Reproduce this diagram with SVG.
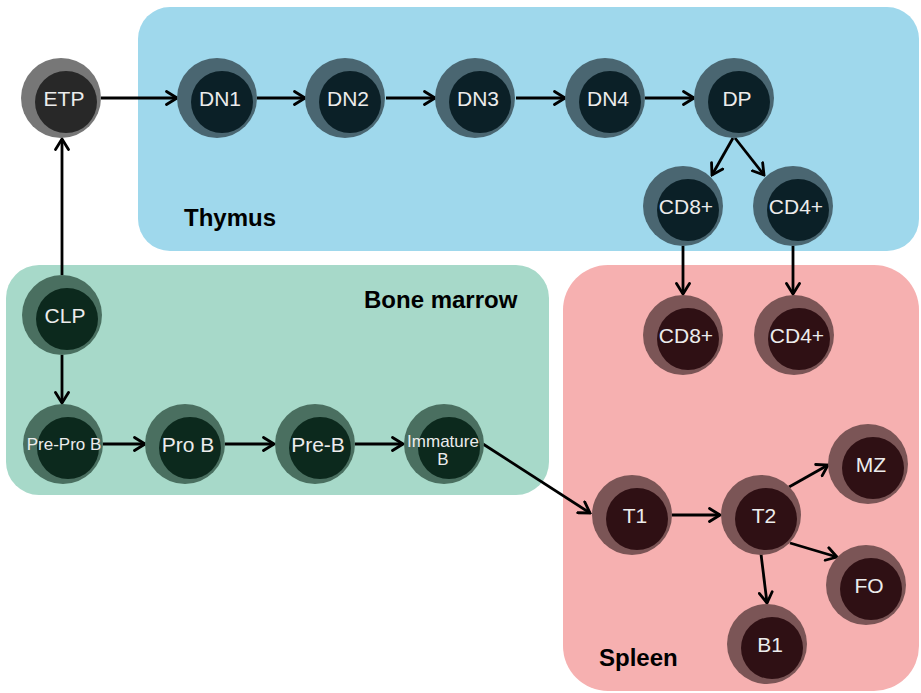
<svg xmlns="http://www.w3.org/2000/svg" width="921" height="693" viewBox="0 0 921 693">
<defs>
<style>
.region{stroke:none}
.rt{font-family:"Liberation Sans",Arial,sans-serif;font-weight:bold;font-size:24px;fill:#000}
.lbl{font-family:"Liberation Sans",Arial,sans-serif;font-size:21px;fill:#ececec;text-anchor:middle}
.sm{font-size:17px}
.edge{stroke:#000;stroke-width:2.8;fill:none;marker-end:url(#ah)}
.g .o{fill:#777777}.g .i{fill:#282828}
.t .o{fill:#4a6671}.t .i{fill:#0b2027}
.b .o{fill:#4a6f60}.b .i{fill:#0c291d}
.s .o{fill:#7b5556}.s .i{fill:#2f1014}
</style>
<marker id="ah" viewBox="0 0 14 16" refX="12" refY="8" markerWidth="14" markerHeight="16" markerUnits="userSpaceOnUse" orient="auto">
<path d="M1.5,1.5 L12,8 L1.5,14.5" fill="none" stroke="#000" stroke-width="2.8" stroke-linecap="round" stroke-linejoin="miter"/>
</marker>
</defs>
<rect width="921" height="693" fill="#ffffff"/>
<g id="regions">
<rect class="region" x="138" y="7" width="781" height="244" rx="32" fill="#9fd8ec"/>
<rect class="region" x="6" y="265" width="543" height="230" rx="33" fill="#a7d9c9"/>
<rect class="region" x="563" y="265" width="356" height="426" rx="45" fill="#f6b0b0"/>
<text class="rt" x="184" y="226">Thymus</text>
<text class="rt" x="364" y="308">Bone marrow</text>
<text class="rt" x="599" y="666">Spleen</text>
</g>
<g id="connectors">
<line class="edge" x1="101" y1="98" x2="177" y2="98"/>
<line class="edge" x1="257" y1="98" x2="305" y2="98"/>
<line class="edge" x1="386" y1="98" x2="435" y2="98"/>
<line class="edge" x1="516" y1="98" x2="565" y2="98"/>
<line class="edge" x1="645" y1="98" x2="694" y2="98"/>
<line class="edge" x1="733" y1="138" x2="712" y2="175"/>
<line class="edge" x1="735" y1="138" x2="764" y2="175"/>
<line class="edge" x1="683" y1="246" x2="683" y2="294"/>
<line class="edge" x1="793" y1="246" x2="793" y2="294"/>
<line class="edge" x1="62" y1="275" x2="62" y2="139"/>
<line class="edge" x1="62" y1="355" x2="62" y2="403"/>
<line class="edge" x1="103" y1="444" x2="145" y2="444"/>
<line class="edge" x1="225" y1="444" x2="274" y2="444"/>
<line class="edge" x1="355" y1="444" x2="403" y2="444"/>
<line class="edge" x1="483" y1="444" x2="590" y2="513"/>
<line class="edge" x1="672" y1="515" x2="720" y2="515"/>
<line class="edge" x1="789" y1="487" x2="828" y2="465"/>
<line class="edge" x1="790" y1="543" x2="837" y2="557"/>
<line class="edge" x1="761" y1="554" x2="767" y2="603"/>
</g>
<g id="ETP" class="g"><circle class="o" cx="61" cy="98" r="40"/><circle class="i" cx="66" cy="102" r="31"/><text class="lbl" x="64" y="106">ETP</text></g>
<g id="DN1" class="t"><circle class="o" cx="217" cy="98" r="40"/><circle class="i" cx="222" cy="102" r="31"/><text class="lbl" x="220" y="106">DN1</text></g>
<g id="DN2" class="t"><circle class="o" cx="345" cy="98" r="40"/><circle class="i" cx="350" cy="102" r="31"/><text class="lbl" x="348" y="106">DN2</text></g>
<g id="DN3" class="t"><circle class="o" cx="475" cy="98" r="40"/><circle class="i" cx="480" cy="102" r="31"/><text class="lbl" x="478" y="106">DN3</text></g>
<g id="DN4" class="t"><circle class="o" cx="605" cy="98" r="40"/><circle class="i" cx="610" cy="102" r="31"/><text class="lbl" x="608" y="106">DN4</text></g>
<g id="DP" class="t"><circle class="o" cx="734" cy="98" r="40"/><circle class="i" cx="739" cy="102" r="31"/><text class="lbl" x="737" y="106">DP</text></g>
<g id="CD8T" class="t"><circle class="o" cx="683" cy="206" r="40"/><circle class="i" cx="688" cy="210" r="31"/><text class="lbl" x="686" y="214">CD8+</text></g>
<g id="CD4T" class="t"><circle class="o" cx="793" cy="206" r="40"/><circle class="i" cx="798" cy="210" r="31"/><text class="lbl" x="796" y="214">CD4+</text></g>
<g id="CD8S" class="s"><circle class="o" cx="683" cy="335" r="40"/><circle class="i" cx="688" cy="339" r="31"/><text class="lbl" x="686" y="343">CD8+</text></g>
<g id="CD4S" class="s"><circle class="o" cx="794" cy="335" r="40"/><circle class="i" cx="799" cy="339" r="31"/><text class="lbl" x="797" y="343">CD4+</text></g>
<g id="CLP" class="b"><circle class="o" cx="62" cy="315" r="40"/><circle class="i" cx="67" cy="319" r="31"/><text class="lbl" x="65" y="323">CLP</text></g>
<g id="PreProB" class="b"><circle class="o" cx="63" cy="444" r="40"/><circle class="i" cx="68" cy="448" r="31"/><text class="lbl sm" x="64" y="450">Pre-Pro B</text></g>
<g id="ProB" class="b"><circle class="o" cx="185" cy="444" r="40"/><circle class="i" cx="190" cy="448" r="31"/><text class="lbl" x="188" y="452">Pro B</text></g>
<g id="PreB" class="b"><circle class="o" cx="315" cy="444" r="40"/><circle class="i" cx="320" cy="448" r="31"/><text class="lbl" x="318" y="452">Pre-B</text></g>
<g id="ImmatureB" class="b"><circle class="o" cx="444" cy="444" r="40"/><circle class="i" cx="449" cy="448" r="31"/><text class="lbl sm" x="443" y="447">Immature</text><text class="lbl sm" x="443" y="465">B</text></g>
<g id="T1" class="s"><circle class="o" cx="632" cy="515" r="40"/><circle class="i" cx="637" cy="519" r="31"/><text class="lbl" x="635" y="523">T1</text></g>
<g id="T2" class="s"><circle class="o" cx="761" cy="515" r="40"/><circle class="i" cx="766" cy="519" r="31"/><text class="lbl" x="764" y="523">T2</text></g>
<g id="MZ" class="s"><circle class="o" cx="868" cy="464" r="40"/><circle class="i" cx="873" cy="468" r="31"/><text class="lbl" x="871" y="472">MZ</text></g>
<g id="FO" class="s"><circle class="o" cx="866" cy="585" r="40"/><circle class="i" cx="871" cy="589" r="31"/><text class="lbl" x="869" y="593">FO</text></g>
<g id="B1" class="s"><circle class="o" cx="767" cy="644" r="40"/><circle class="i" cx="772" cy="648" r="31"/><text class="lbl" x="770" y="652">B1</text></g>
</svg>
